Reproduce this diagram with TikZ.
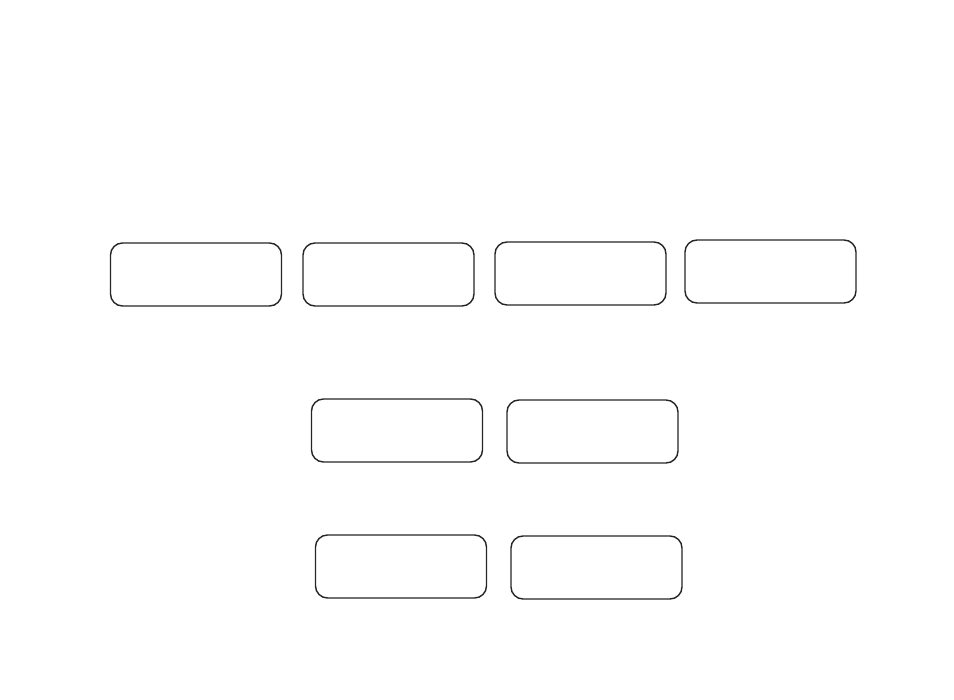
\documentclass[tikz,border=0pt]{standalone}
\begin{document}
\begin{tikzpicture}[x=1pt,y=-1pt,
  rbox/.style={draw=black!85,line width=1.4pt,rounded corners=12pt,minimum width=171pt,minimum height=63pt,inner sep=0pt,fill=white}]
\useasboundingbox (0,0) rectangle (954,700);
\node[rbox] (b1) at (196,274.5) {};
\node[rbox] (b2) at (388.5,274.5) {};
\node[rbox] (b3) at (580.5,273.5) {};
\node[rbox] (b4) at (770.5,271.5) {};
\node[rbox] (b5) at (397,430.5) {};
\node[rbox] (b6) at (592.5,431.5) {};
\node[rbox] (b7) at (401,566.5) {};
\node[rbox] (b8) at (596.5,567.5) {};
\end{tikzpicture}
\end{document}
